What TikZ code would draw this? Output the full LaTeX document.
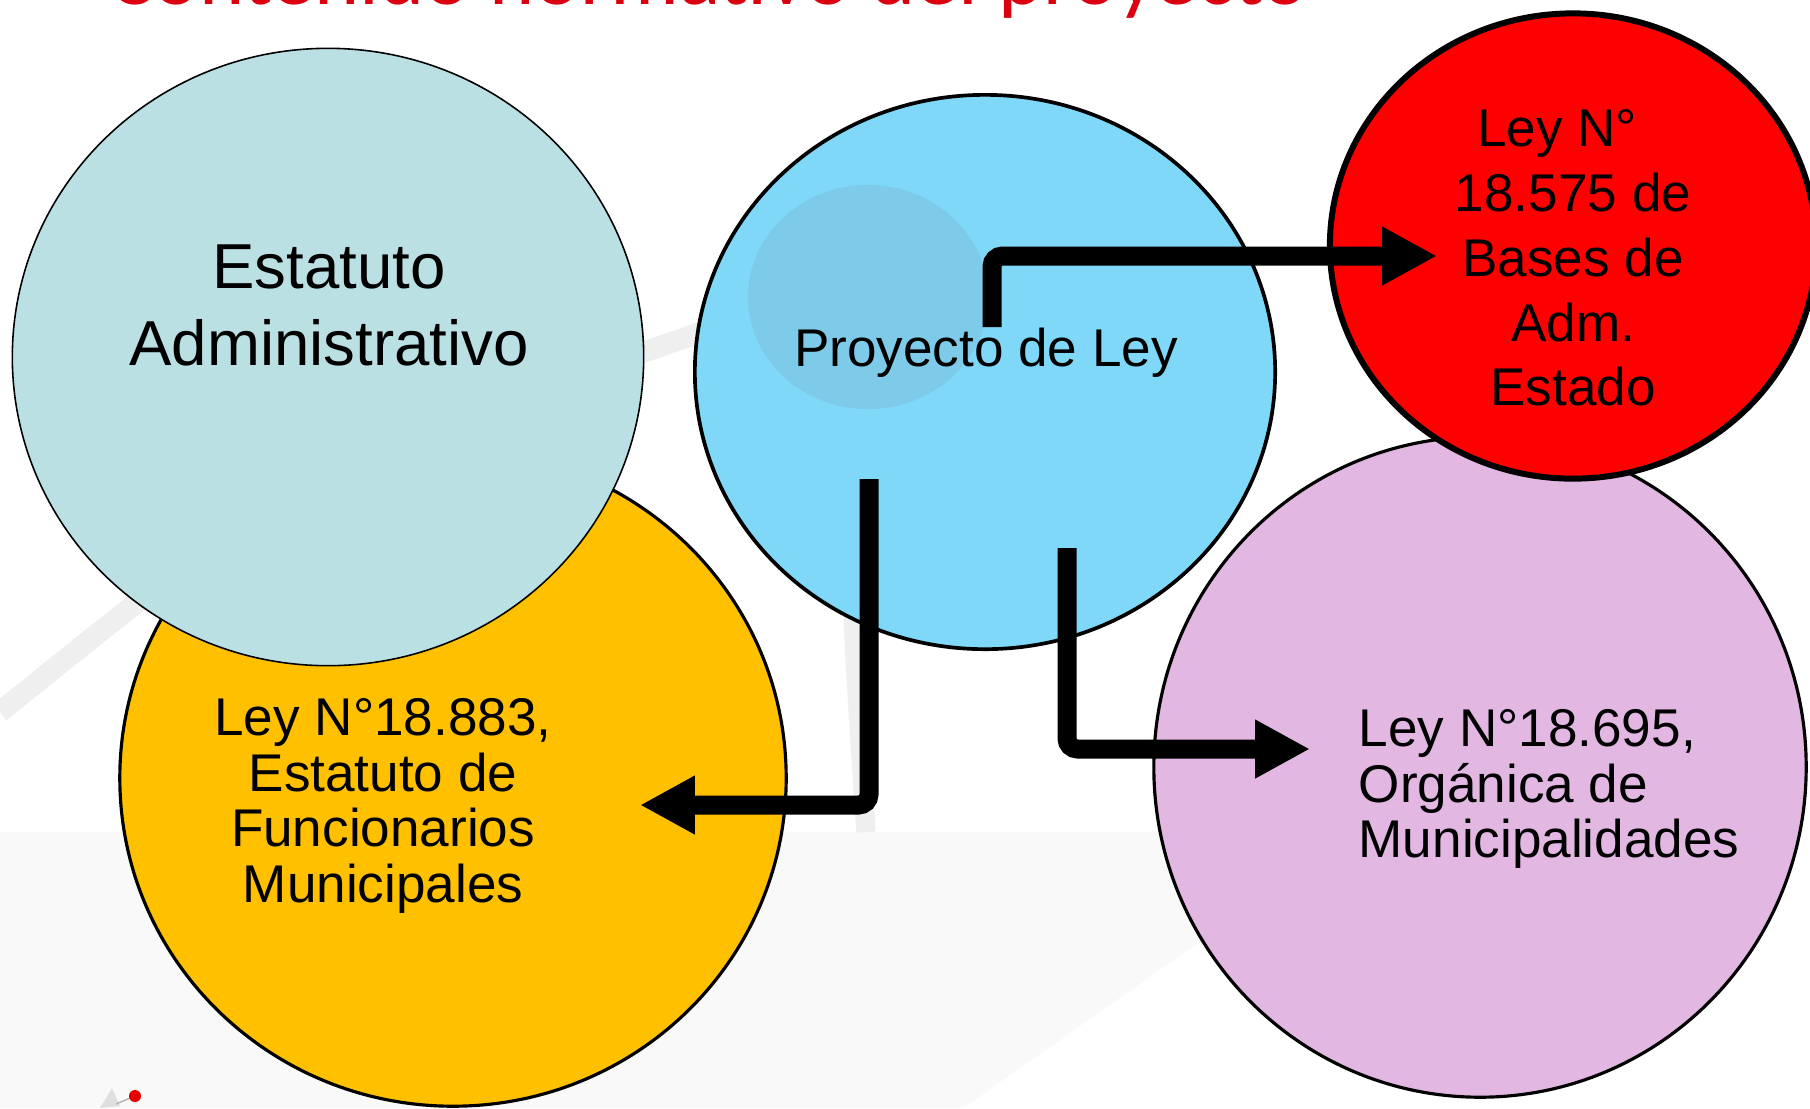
\documentclass[tikz,border=0pt]{standalone}
\usepackage{fontspec}
\setmainfont{Liberation Sans}
\newfontfamily\titlefont{Carlito}
\usetikzlibrary{arrows.meta,shapes.geometric}
\definecolor{estc}{HTML}{BBE0E3}
\definecolor{yelc}{HTML}{FFC000}
\definecolor{bluc}{HTML}{80D8F8}
\definecolor{innc}{HTML}{7DCBE8}
\definecolor{pinkc}{HTML}{E2B8E2}
\definecolor{redc}{HTML}{FF0000}
\definecolor{titc}{HTML}{DA0010}
\definecolor{bggray}{HTML}{F9F9F9}
\definecolor{bgband}{HTML}{EFEFEF}
\tikzset{
  blob/.style={ellipse, inner sep=0pt, outer sep=0pt, draw=black},
  bigarrow/.style={line width=5.4pt, rounded corners=3pt,
     -{Triangle[length=15.6pt,width=15.6pt]}},
  txt/.style={inner sep=0pt, text=black},
}
\begin{document}
\begin{tikzpicture}[x=0.01cm,y=-0.01cm]
\useasboundingbox (0,0) rectangle (1810,1108);
\fill[white] (0,0) rectangle (1810,1108);
% background decoration
\fill[bggray] (0,832) -- (1356,832) -- (963,1108) -- (0,1108) -- cycle;
\draw[bgband, line width=6pt] (0,712) .. controls (300,470) .. (760,312);
\draw[bgband, line width=5.5pt] (847,400) .. controls (852,620) .. (866,832);
% title (mostly above the page)
\node[anchor=base, text=titc, inner sep=0pt, font=\titlefont\fontsize{24.5}{28}\selectfont] (title) at (708,4) {Contenido normativo del proyecto};
% ellipses
\node[blob, fill=yelc, line width=0.9pt, minimum width=6.66cm, minimum height=6.56cm] (yel) at (453,778) {};
\node[blob, fill=estc, line width=0.45pt, minimum width=6.31cm, minimum height=6.17cm] (est) at (328,357) {};
\node[blob, fill=bluc, line width=1.05pt, minimum width=5.80cm, minimum height=5.54cm] (proy) at (985,372) {};
\node[ellipse, inner sep=0pt, fill=innc, minimum width=2.40cm, minimum height=2.24cm] (inner) at (868,297) {};
\node[blob, fill=pinkc, line width=0.9pt, minimum width=6.52cm, minimum height=6.60cm] (pink) at (1480,767) {};
\node[blob, fill=redc, line width=1.7pt, minimum width=4.86cm, minimum height=4.65cm] (red) at (1573,246) {};
% connectors
\coordinate (a1s) at (992,327);
\coordinate (a1e) at (1437,256);
\coordinate (a2s) at (869,479);
\coordinate (a2e) at (640,805);
\coordinate (a3s) at (1067,548);
\coordinate (a3e) at (1310,749);
\draw[bigarrow] (a1s) |- (a1e);
\draw[bigarrow] (a2s) |- (a2e);
\draw[bigarrow] (a3s) |- (a3e);
% texts
\node[txt, align=center, font=\fontsize{18.07}{21.9}\selectfont] (test) at (329,305) {Estatuto\\Administrativo};
\node[txt, font=\fontsize{15.1}{18}\selectfont] (tproy) at (986,353) {Proyecto de Ley};
\node[txt, align=center, font=\fontsize{15.1}{18.4}\selectfont] (tred) at (1573,258) {Ley N°\hspace*{9pt}\\18.575 de\\Bases de\\Adm.\\Estado};
\node[txt, align=center, font=\fontsize{15.1}{15.8}\selectfont] (tyel) at (383,806) {Ley N°18.883,\\Estatuto de\\Funcionarios\\Municipales};
\node[txt, align=left, anchor=west, font=\fontsize{15.1}{15.8}\selectfont] (tpink) at (1358,789) {Ley N°18.695,\\Orgánica de\\Municipalidades};
% small logo bottom-left
\fill[gray!25] (112,1088) -- (120,1106) -- (100,1108) -- cycle;
\draw[gray!60, line width=0.4pt] (135,1096) -- (116,1104);
\fill[red!90!black] (135,1096) circle [radius=6];
\end{tikzpicture}
\end{document}
